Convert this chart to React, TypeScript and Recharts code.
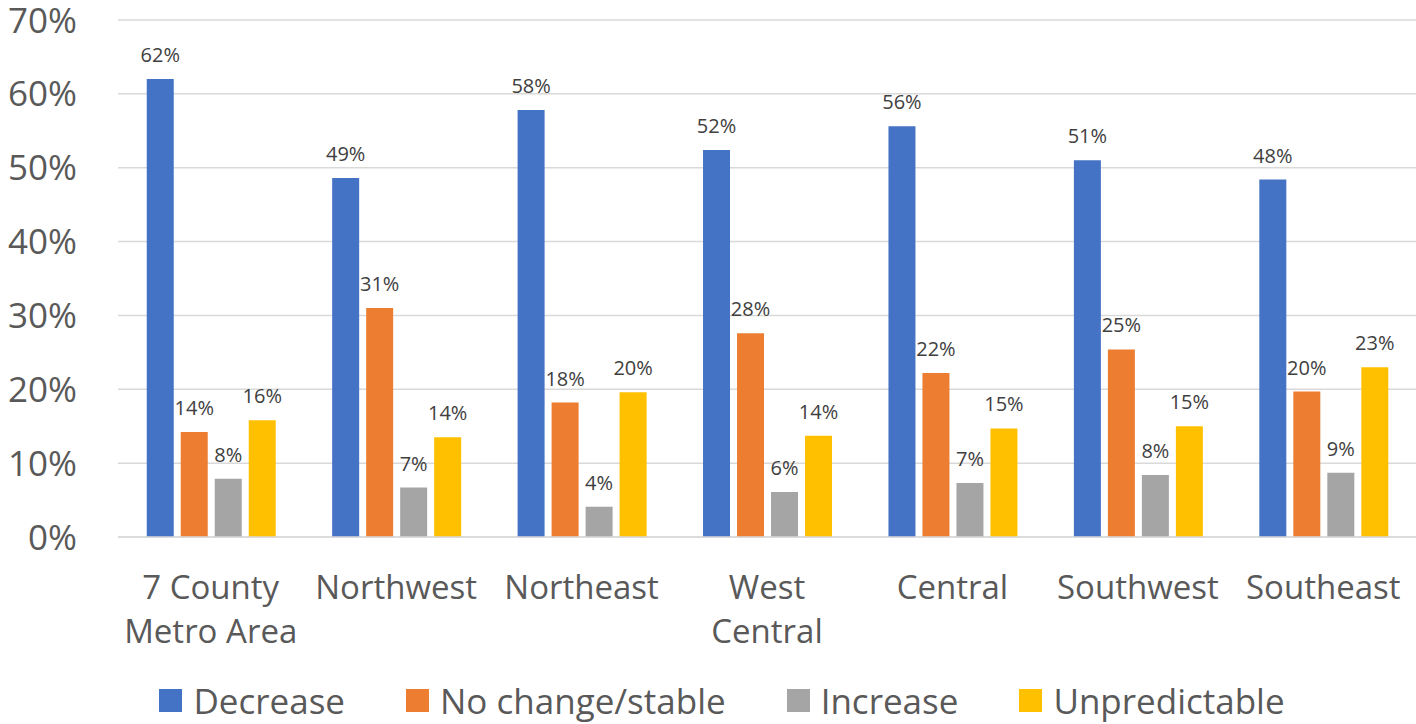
import { BarChart, Bar, XAxis, YAxis, CartesianGrid, Legend, LabelList } from 'recharts'

const REGIONS = ['7 County Metro Area', 'Northwest', 'Northeast', 'West Central', 'Central', 'Southwest', 'Southeast']

// share of respondents, in percent
const decrease = [62.0, 48.6, 57.8, 52.4, 55.6, 51.0, 48.4]
const noChange = [14.2, 31.0, 18.2, 27.6, 22.2, 25.4, 19.7]
const increase = [7.9, 6.7, 4.1, 6.1, 7.3, 8.4, 8.7]
const unpredictable = [15.8, 13.5, 19.6, 13.7, 14.7, 15.0, 23.0]

const Y_TICKS = [0, 10, 20, 30, 40, 50, 60, 70]

const SERIES = [
  { key: 'decrease', name: 'Decrease', color: '#4472C4' },
  { key: 'noChange', name: 'No change/stable', color: '#ED7D31' },
  { key: 'increase', name: 'Increase', color: '#A5A5A5' },
  { key: 'unpredictable', name: 'Unpredictable', color: '#FFC000' },
]

const data = REGIONS.map((region, i) => ({
  region,
  decrease: decrease[i],
  noChange: noChange[i],
  increase: increase[i],
  unpredictable: unpredictable[i],
}))

const FONT = "'Open Sans', 'Noto Sans', Arial, sans-serif"
const TEXT = '#595959'

if (typeof document !== 'undefined') document.body.style.margin = '0'

// wrap longer names onto two lines, like the axis does in the office chart
function splitLabel(s: string): string[] {
  const words = s.split(' ')
  if (s.length <= 10 || words.length < 2) return [s]
  const half = Math.ceil(words.length / 2)
  return [words.slice(0, half).join(' '), words.slice(half).join(' ')]
}

function RegionTick({ x, y, payload }: any) {
  const lines = splitLabel(payload.value)
  return (
    <g>
      {lines.map((line, i) => (
        <text key={i} x={x} y={y + 60 + i * 44} textAnchor="middle" fill={TEXT}
          style={{ fontFamily: FONT, fontSize: 33 }}>
          {line}
        </text>
      ))}
    </g>
  )
}

function PercentTick({ y, payload }: any) {
  return (
    <text x={77} y={y} dy="0.36em" textAnchor="end" fill={TEXT} style={{ fontFamily: FONT, fontSize: 35 }}>
      {payload.value}%
    </text>
  )
}

function LegendRow() {
  return (
    <div style={{
      height: 40, display: 'flex', justifyContent: 'center', alignItems: 'center',
      gap: 61, paddingLeft: 28, position: 'relative', top: -4,
      fontFamily: FONT, fontSize: 35, lineHeight: 1, color: TEXT,
    }}>
      {SERIES.map(s => (
        <div key={s.key} style={{ display: 'flex', alignItems: 'center', gap: 11 }}>
          <span style={{ width: 23, height: 23, background: s.color, display: 'inline-block' }} />
          <span>{s.name}</span>
        </div>
      ))}
    </div>
  )
}

export default function App() {
  return (
    <BarChart width={1416} height={724} data={data}
      margin={{ top: 20, right: 0, bottom: 0, left: 0 }}
      barCategoryGap="15.5%" barGap={7}>
      <CartesianGrid vertical={false} stroke="#D9D9D9" strokeWidth={1.5} />
      <XAxis dataKey="region" interval={0} height={147} tickLine={false} tickSize={0}
        axisLine={{ stroke: '#D9D9D9', strokeWidth: 1.5 }} tick={<RegionTick />} />
      <YAxis width={118} domain={[0, 70]} ticks={Y_TICKS} axisLine={false} tickLine={false}
        tick={<PercentTick />} />
      <Legend verticalAlign="bottom" content={<LegendRow />} />
      {SERIES.map(s => (
        <Bar key={s.key} dataKey={s.key} name={s.name} fill={s.color} isAnimationActive={false}>
          <LabelList dataKey={s.key} position="top" offset={17}
            formatter={(v: any) => `${Math.round(Number(v))}%`}
            style={{ fontFamily: FONT, fontSize: 20, fill: '#404040' }} />
        </Bar>
      ))}
    </BarChart>
  )
}
